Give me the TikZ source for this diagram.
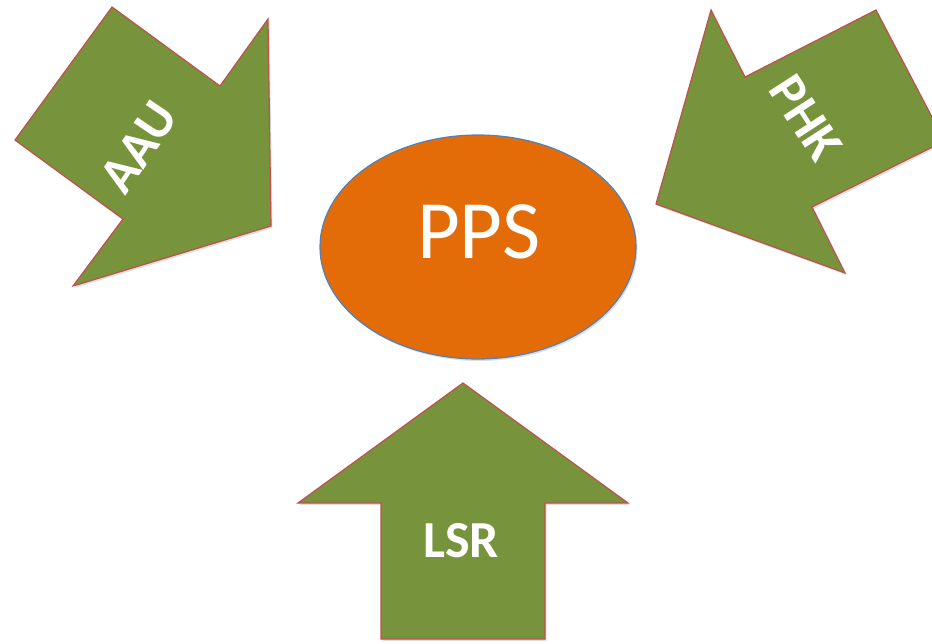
\documentclass[tikz,border=0pt]{standalone}
\usepackage{fontspec}
\setmainfont{Carlito}
\usetikzlibrary{shadows}
\definecolor{olive}{HTML}{77933C}
\definecolor{redline}{HTML}{C0504D}
\definecolor{orangefill}{HTML}{E36C09}
\definecolor{blueline}{HTML}{4F81BD}
\tikzset{
  blockarrow/.style={fill=olive, draw=redline, line width=1.2pt, line join=miter,
    drop shadow={opacity=0.25, shadow xshift=1.5pt, shadow yshift=-2pt}},
  arrowlabel/.style={text=white, font=\bfseries\fontsize{52}{56}\selectfont, inner sep=0pt},
}
\begin{document}
\begin{tikzpicture}[x=1pt, y=-1pt]
\useasboundingbox (0,0) rectangle (932,643);
\clip (0,0) rectangle (932,643);
% AAU arrow
\path[blockarrow] (15,140) -- (112,7) -- (220,86) -- (268,19) -- (271,226) -- (73,286) -- (123,219) -- cycle;
% PHK arrow
\path[blockarrow] (711,10) -- (745,77) -- (876,10) -- (944.5,141) -- (812,207) -- (845,273) -- (656,204) -- cycle;
% LSR arrow
\path[blockarrow] (463,383) -- (628,503) -- (545,503) -- (545,639) -- (381,639) -- (381,503) -- (298,503) -- cycle;
% PPS ellipse
\path[fill=orangefill, draw=blueline, line width=1.2pt,
  drop shadow={opacity=0.25, shadow xshift=1.5pt, shadow yshift=-2pt}]
  (478,247) ellipse [x radius=158, y radius=112];
\node[text=white, font=\fontsize{83}{90}\selectfont, inner sep=0pt] (pps) at (479,232) {PPS};
\node[arrowlabel] (lsr) at (461,541) {LSR};
\node[arrowlabel, rotate=56] (aau) at (139,147) {AAU};
\node[arrowlabel, rotate=-57] (phk) at (806,118) {PHK};
\end{tikzpicture}
\end{document}
